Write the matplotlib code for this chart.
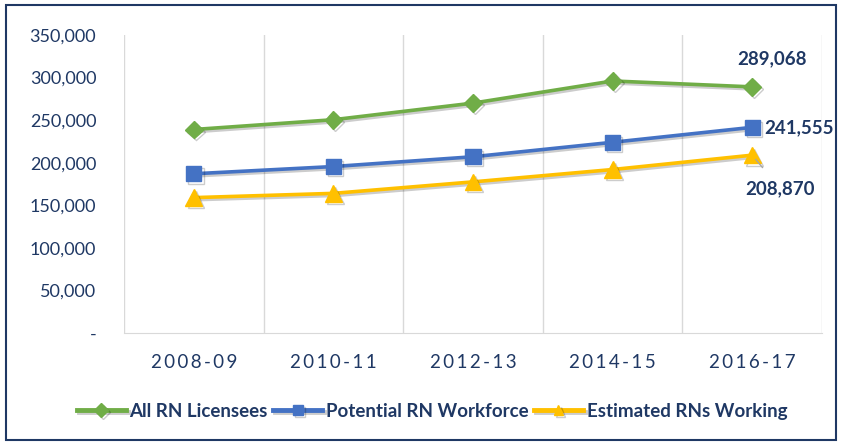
import matplotlib.pyplot as plt
import matplotlib.patheffects as pe
from matplotlib.patches import Rectangle
from matplotlib.ticker import FuncFormatter

periods = ["2008-09", "2010-11", "2012-13", "2014-15", "2016-17"]
all_rn = [239000, 250500, 270000, 296000, 289068]
potential = [187000, 195500, 207000, 224000, 241555]
working = [159000, 164000, 177500, 192000, 208870]

NAVY = "#1F3864"
FONT = ["Lato", "DejaVu Sans"]
plt.rcParams["font.family"] = FONT

fig = plt.figure(figsize=(8.41, 4.44), dpi=100)
ax = fig.add_axes([124 / 841, 1 - 333 / 444, 698 / 841, 298 / 444])

shadow = [pe.SimpleLineShadow(offset=(1.5, -1.5), alpha=0.2, shadow_color="k"),
          pe.Normal()]
x = range(len(periods))
series = [
    (all_rn, "All RN Licensees", "#70AD47", "D", 9),
    (potential, "Potential RN Workforce", "#4472C4", "s", 11),
    (working, "Estimated RNs Working", "#FFC000", "^", 12),
]
for vals, name, color, marker, ms in series:
    ax.plot(x, vals, color=color, lw=2.6, marker=marker, ms=ms,
            label=name, path_effects=shadow, zorder=3)

ax.set_ylim(0, 350000)
ax.set_xlim(-0.5, len(periods) - 0.5)
ax.set_yticks(range(0, 350001, 50000))
ax.yaxis.set_major_formatter(
    FuncFormatter(lambda v, _: "-" if v == 0 else f"{int(v):,}"))
ax.set_xticks(x)
ax.set_xticklabels(["\u2009".join(p) for p in periods])
ax.set_xticks([i + 0.5 for i in range(-1, len(periods))], minor=True)
ax.grid(True, which="minor", axis="x", color="#D9D9D9", lw=1)
ax.tick_params(axis="both", which="both", length=0, colors=NAVY, labelsize=13.5)
ax.tick_params(axis="y", labelsize=13, pad=20)
ax.tick_params(axis="x", pad=15)
for lbl in ax.get_yticklabels():
    lbl.set_horizontalalignment("right")
for s in ["top", "right", "left"]:
    ax.spines[s].set_visible(False)
ax.spines["bottom"].set_color("#D9D9D9")

last = len(periods) - 1
ax.annotate(f"{all_rn[-1]:,}", (last, all_rn[-1]), xytext=(14, 20),
            textcoords="offset points", ha="center", va="center",
            color=NAVY, fontsize=13.5, fontweight="bold")
ax.annotate(f"{potential[-1]:,}", (last, potential[-1]), xytext=(9, 0),
            textcoords="offset points", ha="left", va="center",
            color=NAVY, fontsize=13.5, fontweight="bold")
ax.annotate(f"{working[-1]:,}", (last, working[-1]), xytext=(20, -24),
            textcoords="offset points", ha="center", va="center",
            color=NAVY, fontsize=13.5, fontweight="bold",
            arrowprops=dict(arrowstyle="-", color="#A6A6A6", lw=1,
                            shrinkA=9, shrinkB=4))

leg = fig.legend(loc="center", bbox_to_anchor=(432 / 841, 1 - 411 / 444), ncol=3,
                 frameon=False, handlelength=2.6, columnspacing=0.3,
                 handletextpad=0.2, prop={"weight": "bold", "size": 13.5})
for t in leg.get_texts():
    t.set_color(NAVY)
for h in leg.legend_handles:
    h.set_markersize(7)
    h.set_linewidth(3.5)

fig.patches.append(Rectangle((6 / 841, 4 / 444), 830 / 841, 435 / 444,
                             transform=fig.transFigure, fill=False,
                             edgecolor=NAVY, lw=1.5))

fig.savefig("out.png", dpi=100)
